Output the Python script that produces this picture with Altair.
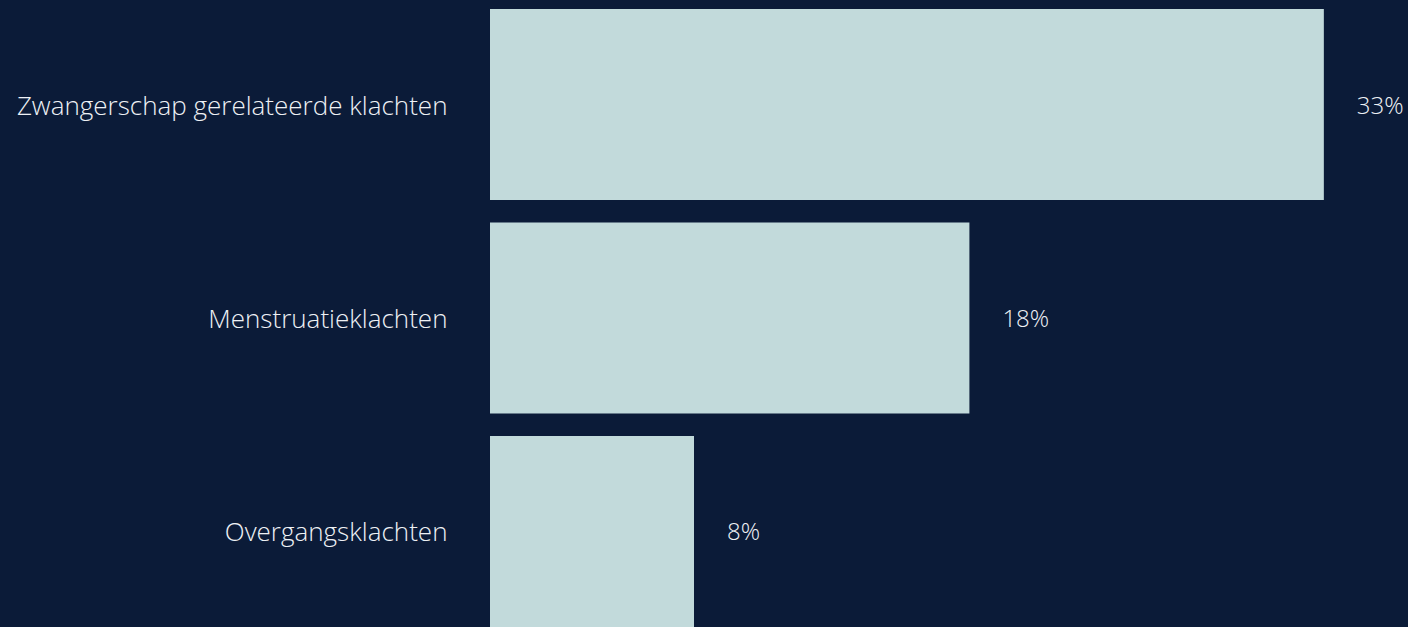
import altair as alt
import pandas as pd

categories = ["Zwangerschap gerelateerde klachten", "Menstruatieklachten", "Overgangsklachten"]
values = [32.7, 18.8, 8.0]
labels = ["33%", "18%", "8%"]

df = pd.DataFrame({"cat": categories, "val": values, "lab": labels})

FONT = "Open Sans"
BG = "#0b1b38"
TXT = "#eef1f5"

y = alt.Y("cat:N", sort=categories, title=None,
          scale=alt.Scale(paddingInner=0.105, paddingOuter=0),
          axis=alt.Axis(domain=False, ticks=False, labelFont=FONT, labelFontSize=26,
                        labelFontWeight=300, labelColor=TXT, labelPadding=43,
                        labelLimit=490, labelOffset=2))
x = alt.X("val:Q", title=None, scale=alt.Scale(domain=[0, 36], nice=False),
          axis=None)

bars = alt.Chart(df).mark_bar(color="#c2dadb").encode(x=x, y=y)
text = alt.Chart(df).mark_text(align="left", dx=33, dy=2, font=FONT, fontSize=24,
                               fontWeight=300, color=TXT).encode(x=x, y=y, text="lab:N")

chart = (bars + text).properties(
    width=918, height=618, background=BG,
    padding={"left": 490, "top": 9, "right": 0, "bottom": 0},
    autosize=alt.AutoSizeParams(type="none"),
).configure_view(stroke=None)

chart.save("out.html", embed_options={"renderer": "svg", "actions": False})
